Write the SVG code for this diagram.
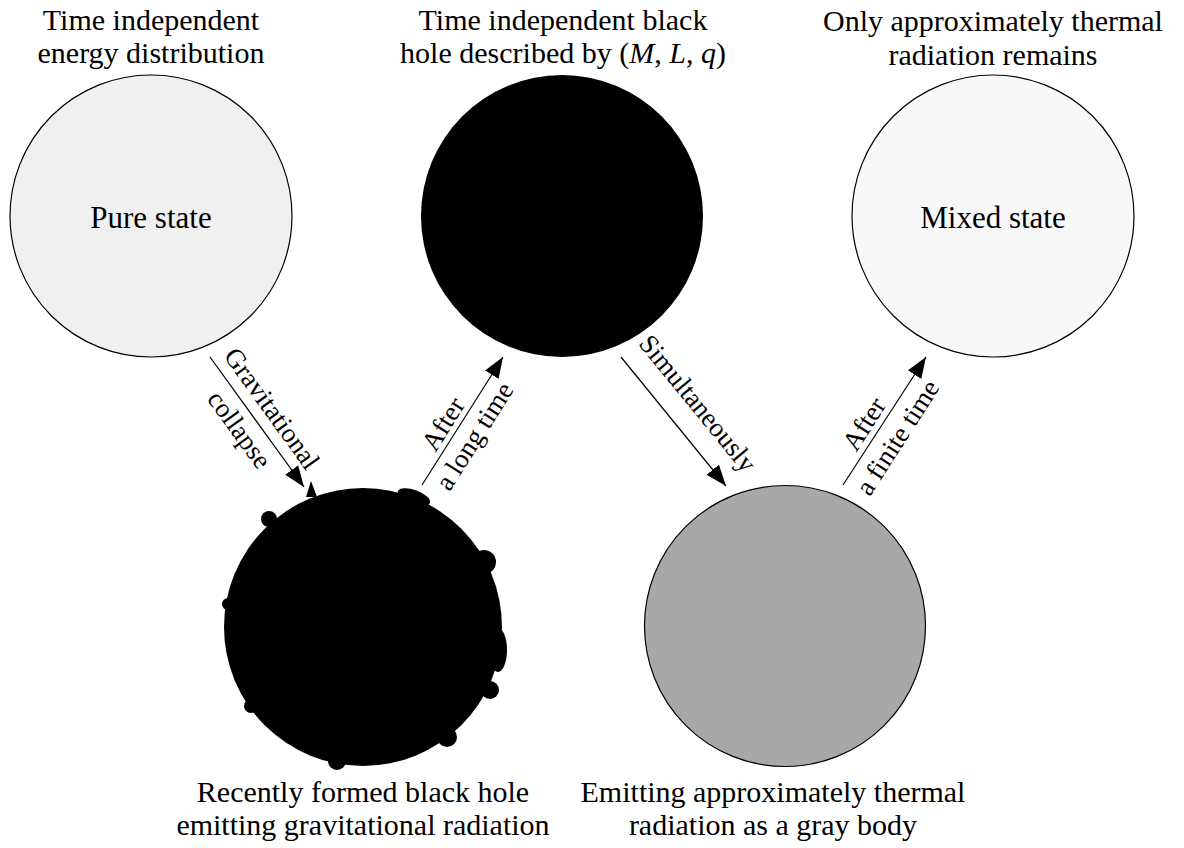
<svg xmlns="http://www.w3.org/2000/svg" width="1184" height="848" viewBox="0 0 1184 848">
<defs>
<marker id="ah" markerUnits="userSpaceOnUse" markerWidth="24" markerHeight="18" refX="21" refY="8.5" orient="auto">
<path d="M0,0.5 L21,8.5 L0,16.5 Z" fill="#000"/>
</marker>
</defs>
<rect width="1184" height="848" fill="#fff"/>

<g id="pure">
<circle cx="151" cy="216" r="141" fill="#f0f0f0" stroke="#000" stroke-width="1.2"/>
<text x="151" y="228" font-size="31" font-family="Liberation Serif" text-anchor="middle">Pure state</text>
<text x="151" y="30" font-size="30" font-family="Liberation Serif" text-anchor="middle">Time independent</text>
<text x="151" y="63" font-size="30" font-family="Liberation Serif" text-anchor="middle">energy distribution</text>
</g>

<g id="blackhole">
<circle cx="562" cy="216" r="141" fill="#000"/>
<text x="563" y="30" font-size="30" font-family="Liberation Serif" text-anchor="middle">Time independent black</text>
<text x="563" y="63" font-size="30" font-family="Liberation Serif" text-anchor="middle">hole described by (<tspan font-style="italic">M</tspan>, <tspan font-style="italic">L</tspan>, <tspan font-style="italic">q</tspan>)</text>
</g>

<g id="mixed">
<circle cx="993" cy="216" r="141" fill="#f8f8f8" stroke="#000" stroke-width="1.2"/>
<text x="993" y="228" font-size="31" font-family="Liberation Serif" text-anchor="middle">Mixed state</text>
<text x="993" y="31" font-size="30" font-family="Liberation Serif" text-anchor="middle">Only approximately thermal</text>
<text x="993" y="65" font-size="30" font-family="Liberation Serif" text-anchor="middle">radiation remains</text>
</g>

<g id="recent">
<circle cx="363" cy="627" r="139" fill="#000"/>
<polygon points="306,497 311,481 317,497" fill="#000"/>
<ellipse cx="414" cy="497" rx="17" ry="7" transform="rotate(20 414 497)" fill="#000"/>
<circle cx="269" cy="519" r="8" fill="#000"/>
<circle cx="484" cy="562" r="12" fill="#000"/>
<ellipse cx="498" cy="650" rx="9" ry="22" fill="#000"/>
<circle cx="490" cy="690" r="9" fill="#000"/>
<circle cx="228" cy="604" r="6" fill="#000"/>
<circle cx="251" cy="706" r="7" fill="#000"/>
<circle cx="337" cy="761" r="9" fill="#000"/>
<circle cx="447" cy="737" r="10" fill="#000"/>
<text x="363" y="802" font-size="30" font-family="Liberation Serif" text-anchor="middle">Recently formed black hole</text>
<text x="363" y="835" font-size="30" font-family="Liberation Serif" text-anchor="middle">emitting gravitational radiation</text>
</g>

<g id="graybody">
<circle cx="785" cy="626" r="140.5" fill="#a8a8a8" stroke="#000" stroke-width="1.2"/>
<text x="773" y="802" font-size="30" font-family="Liberation Serif" text-anchor="middle">Emitting approximately thermal</text>
<text x="773" y="835" font-size="30" font-family="Liberation Serif" text-anchor="middle">radiation as a gray body</text>
</g>

<g id="connectors" stroke="#000" stroke-width="1.2" fill="none" marker-end="url(#ah)">
<line x1="210" y1="357" x2="304" y2="487"/>
<line x1="621" y1="357" x2="726" y2="486"/>
<line x1="422" y1="485" x2="503" y2="357"/>
<line x1="843" y1="485" x2="926" y2="357"/>
</g>
<g id="connector-labels">
<text x="272" y="417.5" font-size="27" font-family="Liberation Serif" text-anchor="middle" transform="rotate(54.1 272 408.5)">Gravitational</text>
<text x="237.5" y="437.5" font-size="27" font-family="Liberation Serif" text-anchor="middle" transform="rotate(54.1 237.5 431)">collapse</text>
<text x="696" y="411.5" font-size="27" font-family="Liberation Serif" text-anchor="middle" transform="rotate(50.7 696 405)">Simultaneously</text>
<text x="443" y="433" font-size="27" font-family="Liberation Serif" text-anchor="middle" transform="rotate(-57.7 443 424)">After</text>
<text x="476.5" y="444" font-size="27" font-family="Liberation Serif" text-anchor="middle" transform="rotate(-57.7 476.5 437.5)">a long time</text>
<text x="864" y="433" font-size="27" font-family="Liberation Serif" text-anchor="middle" transform="rotate(-57.3 864 424)">After</text>
<text x="897.5" y="446.5" font-size="27" font-family="Liberation Serif" text-anchor="middle" transform="rotate(-57.3 897.5 437.5)">a finite time</text>
</g>
</svg>
